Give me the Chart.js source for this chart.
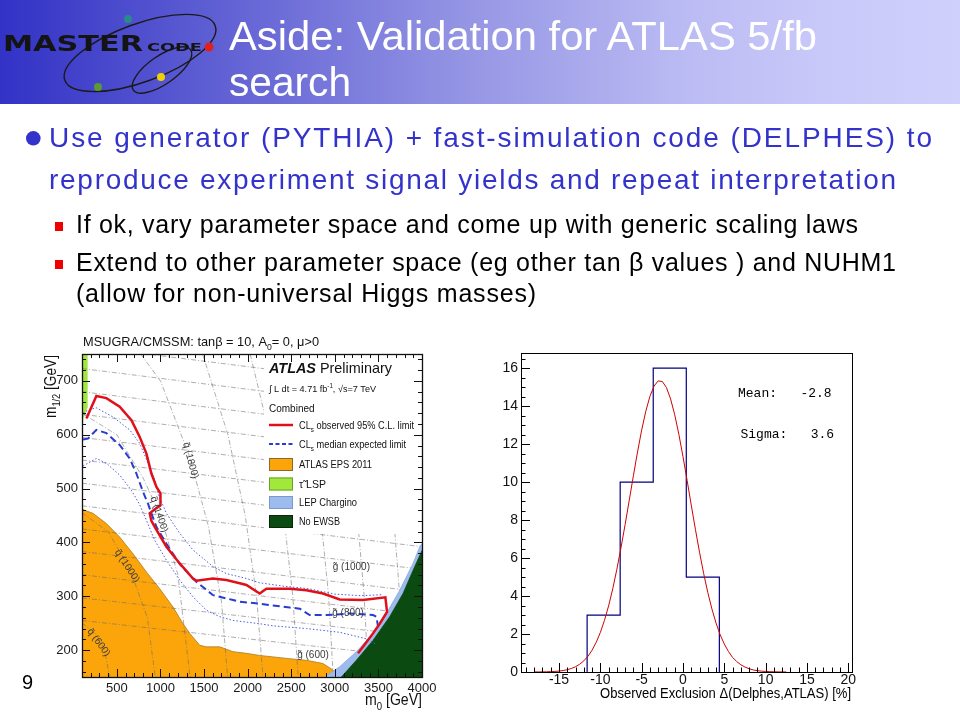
<!DOCTYPE html>
<html>
<head>
<meta charset="utf-8">
<title>Aside: Validation for ATLAS 5/fb search</title>
<script src="https://cdn.jsdelivr.net/npm/chart.js@4.4.1/dist/chart.umd.min.js"></script>
<style>
  body { margin: 0; background: #fff; }
  #slide { position: relative; width: 960px; height: 720px; overflow: hidden; background: #fff; }
  #head { position: absolute; left: 0; top: 0; width: 960px; height: 104px;
          background: linear-gradient(to right, #3232c6 0%, #5a5ad2 20%, #9494e4 48%, #bcbcf4 72%, #cacafa 88%, #d0d0fc 100%); }
  canvas { position: absolute; }
  #atlas { left: 30px; top: 330px; }
  #hist { left: 480px; top: 340px; }
  svg.layer { position: absolute; left: 0; top: 0; }
</style>
</head>
<body>
<div id="slide">
  <div id="head"></div>
  <canvas id="atlas" width="420" height="380"></canvas>
  <canvas id="hist" width="380" height="370"></canvas>
  <svg class="layer" width="960" height="720" font-family="Liberation Sans, Arial, sans-serif">
    <!-- logo -->
    <g fill="none" stroke="#1a1a1a" stroke-width="1.4">
      <ellipse cx="140" cy="53" rx="80" ry="29" transform="rotate(-20 140 53)"/>
      <ellipse cx="162" cy="70" rx="35" ry="14" transform="rotate(-35 162 70)"/>
    </g>
    <text x="3" y="51" font-family="DejaVu Sans" font-weight="bold" font-size="22" fill="#141414" textLength="140" lengthAdjust="spacingAndGlyphs">MASTER</text>
    <text x="147" y="51" font-family="DejaVu Sans" font-weight="bold" font-size="11" fill="#141414" textLength="55" lengthAdjust="spacingAndGlyphs">CODE</text>
    <circle cx="128" cy="19" r="4" fill="#2a8a8a"/>
    <circle cx="209" cy="47" r="4.5" fill="#e02020"/>
    <circle cx="98" cy="87" r="4" fill="#5a9a30"/>
    <circle cx="161" cy="77" r="4" fill="#f0d000"/>
    <!-- title -->
    <text x="229" y="50" font-size="40" fill="#fff" textLength="588" lengthAdjust="spacingAndGlyphs">Aside: Validation for ATLAS 5/fb</text>
    <text x="229" y="96" font-size="40" fill="#fff" textLength="122" lengthAdjust="spacingAndGlyphs">search</text>
    <!-- bullets -->
    <circle cx="33.3" cy="138.3" r="7.3" fill="#3333cc"/>
    <text x="49" y="146.7" font-size="28" fill="#3333cc" textLength="883" lengthAdjust="spacing">Use generator (PYTHIA) + fast-simulation code (DELPHES) to</text>
    <text x="49" y="189" font-size="28" fill="#3333cc" textLength="847" lengthAdjust="spacing">reproduce experiment signal yields and repeat interpretation</text>
    <rect x="55" y="222" width="8" height="9" fill="#ee0000"/>
    <text x="76" y="232.7" font-size="25" fill="#000" textLength="782" lengthAdjust="spacing">If ok, vary parameter space and come up with generic scaling laws</text>
    <rect x="55" y="260" width="8" height="9" fill="#ee0000"/>
    <text x="76" y="271" font-size="25" fill="#000" textLength="820" lengthAdjust="spacing">Extend to other parameter space (eg other tan β values ) and NUHM1</text>
    <text x="76" y="302" font-size="25" fill="#000" textLength="460" lengthAdjust="spacing">(allow for non-universal Higgs masses)</text>
    <text x="22" y="689" font-size="20" fill="#000">9</text>
  </svg>
</div>
<script>
Chart.defaults.font.family = '"Liberation Sans", Arial, sans-serif';

// ---------- right panel: Delphes vs ATLAS exclusion histogram ----------
const HIST_BIN_EDGES = [-11.6, -7.6, -3.6, 0.4, 4.4];
const HIST_BIN_COUNTS = [3, 10, 16, 5];
const FIT_X = [-18, -17.5, -17, -16.5, -16, -15.5, -15, -14.5, -14, -13.5, -13, -12.5,
    -12, -11.5, -11, -10.5, -10, -9.5, -9, -8.5, -8, -7.5, -7, -6.5, -6, -5.5, -5, -4.5,
    -4, -3.5, -3, -2.5, -2, -1.5, -1, -0.5, 0, 0.5, 1, 1.5, 2, 2.5, 3, 3.5, 4, 4.5,
    5, 5.5, 6, 6.5, 7, 7.5, 8, 8.5, 9, 9.5, 10, 10.5, 11, 11.5, 12, 12.5];
const FIT_Y = [0.002, 0.004, 0.006, 0.011, 0.019, 0.030, 0.049, 0.078, 0.121, 0.185, 0.277, 0.407,
    0.586, 0.828, 1.15, 1.56, 2.08, 2.72, 3.48, 4.38, 5.41, 6.55, 7.77, 9.05, 10.34, 11.59, 12.74, 13.73,
    14.52, 15.06, 15.33, 15.30, 14.98, 14.38, 13.55, 12.52, 11.34, 10.09, 8.79, 7.52, 6.31, 5.19, 4.19, 3.32, 2.58, 1.96,
    1.47, 1.08, 0.77, 0.55, 0.38, 0.26, 0.17, 0.11, 0.071, 0.045, 0.028, 0.017, 0.010, 0.006, 0.003, 0.002];
const HIST_X_TICKS = [-15, -10, -5, 0, 5, 10, 15, 20];
const HIST_Y_TICKS = [0, 2, 4, 6, 8, 10, 12, 14, 16];
const FIT_MEAN = '-2.8';
const FIT_SIGMA = '3.6';

// ---------- left panel: ATLAS mSUGRA exclusion (m0, m1/2) ----------
const M0_TICKS = [500, 1000, 1500, 2000, 2500, 3000, 3500, 4000];
const M12_TICKS = [200, 300, 400, 500, 600, 700];

const OBS_M0 = [150, 265, 380, 532, 667, 762, 839, 896, 954, 1000, 1000, 940, 877, 896, 934, 1068, 1221, 1373, 1412,
    1603, 1756, 1909, 1986, 2138, 2215, 2482, 2674, 2864, 3056, 3323, 3580, 3599, 3515, 3438, 3323, 3266];
const OBS_M12 = [630, 672, 668, 652, 627, 596, 565, 528, 503, 491, 469, 462, 454, 440, 429, 392, 361, 333, 329,
    333, 330, 324, 321, 305, 314, 314, 311, 305, 294, 293, 298, 271, 249, 231, 206, 194];

const EXP_M0 = [112, 169, 265, 380, 532, 647, 724, 800, 857, 896, 953, 1067, 1220, 1373, 1412, 1603, 1833, 1909,
    2138, 2291, 2482, 2597, 2712, 2903, 3171, 3438, 3477, 3496];
const EXP_M12 = [591, 593, 609, 603, 581, 556, 528, 494, 472, 454, 429, 398, 360, 333, 327, 302, 293, 290,
    286, 283, 279, 277, 265, 265, 268, 265, 262, 243];

const EXP_UP_M0 = [112, 169, 264, 456, 647, 762, 877, 934, 972, 1068, 1221, 1373, 1603, 1756, 1986, 2138, 2400, 2700, 3000, 3300, 3550];
const EXP_UP_M12 = [640, 646, 650, 633, 609, 584, 540, 516, 491, 454, 417, 386, 355, 342, 333, 325, 319, 314, 304, 301, 303];

const EXP_DN_M0 = [112, 265, 380, 532, 666, 762, 839, 934, 1068, 1221, 1373, 1527, 1680, 1833, 1986, 2138, 2291, 2674, 3056, 3362, 3460];
const EXP_DN_M12 = [542, 556, 547, 525, 497, 470, 441, 404, 367, 330, 299, 274, 262, 255, 252, 249, 245, 240, 233, 221, 212];

const EPS_M0 = [100, 111, 226, 380, 532, 685, 839, 992, 1144, 1259, 1336, 1450, 1527, 1680, 1833, 1986, 2138, 2482, 2674, 2864, 2979, 3036];
const EPS_M12 = [462, 461, 454, 435, 410, 379, 345, 314, 280, 249, 231, 209, 206, 206, 197, 194, 190, 184, 181, 175, 163, 150];

const STAU_M0 = [100, 112, 158, 162];
const STAU_M12 = [605, 630, 650, 750];

const LEP_M0 = [2883, 3056, 3247, 3438, 3591, 3744, 3897, 3974, 4000];
const LEP_M12 = [150, 169, 197, 231, 268, 311, 361, 392, 398];

const EWSB_M0 = [3075, 3247, 3438, 3629, 3782, 3897, 4000];
const EWSB_M12 = [150, 181, 218, 262, 305, 348, 385];

// iso-mass contours (gluino: nearly flat, squark: steep arcs)
const GLUINO_M12_LEFT = [255, 297, 340, 383, 425, 468, 510, 553, 595, 638, 680, 723, 765];
const GLUINO_M12_RIGHT = [185, 225, 265, 308, 350, 392, 434, 476, 518, 560, 602, 644, 686];
const SQUARK_M0 = [
    [100, 250, 350, 420],
    [100, 400, 650, 850, 940],
    [100, 500, 800, 1000, 1200, 1340],
    [772, 1000, 1335, 1550, 1700, 1770],
    [1483, 1774, 1972, 2102, 2176],
    [2029, 2251, 2413, 2518, 2580],
    [2521, 2702, 2837, 2929, 2982],
    [2986, 3141, 3257, 3337, 3384],
    [3434, 3571, 3673, 3745, 3786]
];
const SQUARK_M12 = [
    [250, 232, 205, 150],
    [455, 420, 350, 260, 150],
    [640, 600, 520, 450, 340, 150],
    [750, 700, 559, 430, 290, 150],
    [750, 600, 450, 300, 150],
    [750, 600, 450, 300, 150],
    [750, 600, 450, 300, 150],
    [750, 600, 450, 300, 150],
    [750, 600, 450, 300, 150]
];
const CONTOUR_LABELS = ['q̃ (1800)', 'q̃ (1400)', 'q̃ (1000)', 'q̃ (600)', 'g̃ (1000)', 'g̃ (800)', 'g̃ (600)'];
const CONTOUR_LABEL_M0 = [1343, 983, 616, 291, 3190, 3152, 2750];
const CONTOUR_LABEL_M12 = [552, 452, 356, 214, 353, 269, 190];
const CONTOUR_LABEL_ANGLE = [75, 71, 57, 54, 0, 0, 0];

const FONT = 'Liberation Sans';

function pts(xs, ys) {
    return xs.map((v, i) => ({ x: v, y: ys[i] }));
}

function histOutline(edges, counts) {
    const out = [{ x: edges[0], y: 0 }];
    counts.forEach((c, i) => {
        out.push({ x: edges[i], y: c }, { x: edges[i + 1], y: c });
    });
    out.push({ x: edges[edges.length - 1], y: 0 });
    return out;
}

// text made of pieces: [text, kind] with kind '', 'sub', 'sup', 'bi'
function drawRich(ctx, parts, x, y, size, opts = {}) {
    const fam = opts.family || FONT;
    const fontFor = k => (k === 'bi' ? 'bold italic ' : '') +
        ((k === 'sub' || k === 'sup') ? size * 0.68 : size) + 'px "' + fam + '"';
    let w = 0;
    parts.forEach(([t, k]) => { ctx.font = fontFor(k); w += ctx.measureText(t).width; });
    const sx = opts.width ? opts.width / w : 1;
    ctx.save();
    ctx.translate(x, y);
    if (opts.rotate) ctx.rotate(opts.rotate);
    ctx.scale(sx, 1);
    ctx.textAlign = 'left';
    let cx = opts.align === 'right' ? -w : (opts.align === 'center' ? -w / 2 : 0);
    parts.forEach(([t, k]) => {
        ctx.font = fontFor(k);
        const dy = k === 'sub' ? size * 0.3 : (k === 'sup' ? -size * 0.4 : 0);
        ctx.fillText(t, cx, dy);
        cx += ctx.measureText(t).width;
    });
    ctx.restore();
}

function innerTicks(ctx, a, scale, values, lenOf, sides) {
    ctx.beginPath();
    values.forEach(v => {
        const p = Math.round(scale.getPixelForValue(v)) + 0.5;
        const len = lenOf(v);
        if (sides.includes('b')) { ctx.moveTo(p, a.bottom); ctx.lineTo(p, a.bottom - len); }
        if (sides.includes('t')) { ctx.moveTo(p, a.top); ctx.lineTo(p, a.top + len); }
        if (sides.includes('l')) { ctx.moveTo(a.left, p); ctx.lineTo(a.left + len, p); }
        if (sides.includes('r')) { ctx.moveTo(a.right, p); ctx.lineTo(a.right - len, p); }
    });
    ctx.stroke();
}

const histDecor = {
    id: 'histDecor',
    afterDraw(chart) {
        const { ctx, chartArea: a, scales: { x, y } } = chart;
        ctx.save();
        ctx.strokeStyle = '#000';
        ctx.lineWidth = 1;
        ctx.strokeRect(a.left + 0.5, a.top + 0.5, a.right - a.left, a.bottom - a.top);
        const xMinor = [];
        for (let v = -19; v <= 20; v++) xMinor.push(v);
        innerTicks(ctx, a, x, xMinor, v => (v % 5 === 0 ? 9 : 4.5), 'b');
        const yMinor = [];
        for (let k = 0; k <= 33; k++) yMinor.push(k / 2);
        innerTicks(ctx, a, y, yMinor, v => (v % 2 === 0 ? 9 : 4.5), 'l');

        ctx.fillStyle = '#000';
        ctx.textBaseline = 'alphabetic';
        ctx.font = '13px "Liberation Mono"';
        ctx.fillText('Mean:   ' + FIT_MEAN, 258, 57);
        ctx.fillText('Sigma:   ' + FIT_SIGMA, 260.5, 98);

        drawRich(ctx, [['Observed Exclusion Δ(Delphes,ATLAS) [%]', '']], 371, 358, 14, { align: 'right', width: 251 });
        ctx.restore();
    }
};

new Chart(document.getElementById('hist'), {
    type: 'scatter',
    data: {
        datasets: [{
            data: histOutline(HIST_BIN_EDGES, HIST_BIN_COUNTS),
            showLine: true,
            borderColor: '#000080',
            borderWidth: 1.2,
            pointRadius: 0,
            fill: false,
            order: 2
        }, {
            data: pts(FIT_X, FIT_Y),
            showLine: true,
            borderColor: '#d00000',
            borderWidth: 1,
            pointRadius: 0,
            fill: false,
            order: 1
        }]
    },
    options: {
        responsive: false,
        animation: false,
        devicePixelRatio: 1,
        events: [],
        layout: { padding: { top: 13, right: 8, left: 0, bottom: 0 } },
        plugins: { legend: { display: false }, tooltip: { enabled: false } },
        scales: {
            x: {
                type: 'linear', min: -19.6, max: 20.45,
                afterBuildTicks: s => { s.ticks = HIST_X_TICKS.map(v => ({ value: v })); },
                afterFit: s => { s.height = 38; },
                grid: { display: false, drawTicks: false },
                border: { display: false },
                ticks: { padding: 0, color: '#111', font: { size: 14 }, autoSkip: false, maxRotation: 0, callback: v => String(v) }
            },
            y: {
                type: 'linear', min: 0, max: 16.8,
                afterBuildTicks: s => { s.ticks = HIST_Y_TICKS.map(v => ({ value: v })); },
                afterFit: s => { s.width = 41; },
                grid: { display: false, drawTicks: false },
                border: { display: false },
                ticks: { padding: 3, color: '#111', font: { size: 14 }, autoSkip: false, callback: v => String(v) }
            }
        }
    },
    plugins: [histDecor]
});

// ---------- ATLAS panel ----------
const atlasDecor = {
    id: 'atlasDecor',
    afterDraw(chart) {
        const { ctx, chartArea: a, scales: { x, y } } = chart;
        ctx.save();

        // contour labels
        ctx.fillStyle = '#3a3a3a';
        ctx.textBaseline = 'middle';
        CONTOUR_LABELS.forEach((t, i) => {
            drawRich(ctx, [[t, '']], x.getPixelForValue(CONTOUR_LABEL_M0[i]), y.getPixelForValue(CONTOUR_LABEL_M12[i]), 10,
                { align: 'center', rotate: CONTOUR_LABEL_ANGLE[i] * Math.PI / 180 });
        });

        // legend panel
        ctx.fillStyle = '#fff';
        ctx.fillRect(234, a.top, a.right - 234, 204 - a.top);
        ctx.textBaseline = 'alphabetic';
        ctx.fillStyle = '#111';
        drawRich(ctx, [['ATLAS', 'bi'], [' Preliminary', '']], 239, 43, 15, { width: 123 });
        drawRich(ctx, [['∫ L dt = 4.71 fb', ''], ['-1', 'sup'], [', √s=7 TeV', '']], 239, 62, 9.5, { width: 107 });
        drawRich(ctx, [['Combined', '']], 239, 82, 10);

        ctx.lineWidth = 2.5;
        ctx.strokeStyle = '#e0101a';
        ctx.beginPath(); ctx.moveTo(239, 95); ctx.lineTo(263, 95); ctx.stroke();
        ctx.lineWidth = 2;
        ctx.strokeStyle = '#2a3bd0';
        ctx.setLineDash([4, 2.5]);
        ctx.beginPath(); ctx.moveTo(239, 114); ctx.lineTo(263, 114); ctx.stroke();
        ctx.setLineDash([]);
        drawRich(ctx, [['CL', ''], ['s', 'sub'], [' observed 95% C.L. limit', '']], 269, 99, 10, { width: 115 });
        drawRich(ctx, [['CL', ''], ['s', 'sub'], [' median expected limit', '']], 269, 118, 10, { width: 107 });

        const boxes = [
            ['ATLAS EPS 2011', '#fca50a', '#8a6a2a', 128, 73],
            ['τ̃ LSP', '#a2e83a', '#6aa030', 147.5, 27],
            ['LEP Chargino', '#9dbbee', '#7a98c8', 166, 58],
            ['No EWSB', '#0b4a10', '#062a08', 185, 41]
        ];
        ctx.lineWidth = 1;
        boxes.forEach(([t, fillC, edge, top, w]) => {
            ctx.fillStyle = fillC;
            ctx.fillRect(239, top, 24, 13);
            ctx.strokeStyle = edge;
            ctx.strokeRect(239.5, top + 0.5, 23, 12);
            ctx.fillStyle = '#111';
            drawRich(ctx, [[t, '']], 269, top + 10, 10.5, { width: w });
        });

        // frame and inner ticks
        ctx.strokeStyle = '#111';
        ctx.lineWidth = 1;
        const xMinor = [];
        for (let v = 100; v <= 4000; v += 100) xMinor.push(v);
        innerTicks(ctx, a, x, xMinor, v => (v % 500 === 0 ? 8 : 4), 'bt');
        const yMinor = [];
        for (let v = 160; v <= 740; v += 20) yMinor.push(v);
        innerTicks(ctx, a, y, yMinor, v => (v % 100 === 0 ? 8 : 4), 'lr');
        ctx.lineWidth = 1.3;
        ctx.strokeRect(a.left + 0.5, a.top + 0.5, a.right - a.left, a.bottom - a.top);

        // titles
        ctx.fillStyle = '#111';
        drawRich(ctx, [['MSUGRA/CMSSM: tanβ = 10, A', ''], ['0', 'sub'], ['= 0, μ>0', '']], 53, 16, 13, { width: 236 });
        drawRich(ctx, [['m', ''], ['0', 'sub'], [' [GeV]', '']], 392, 375, 16, { align: 'right', width: 57 });
        drawRich(ctx, [['m', ''], ['1/2', 'sub'], [' [GeV]', '']], 25.5, 88, 16, { rotate: -Math.PI / 2, width: 63 });
        ctx.restore();
    }
};

const contourStyle = {
    showLine: true, pointRadius: 0, fill: false,
    borderColor: 'rgba(105,105,105,0.6)', borderWidth: 0.9, borderDash: [5, 2, 1, 2], order: 15
};
const contourSets = [];
GLUINO_M12_LEFT.forEach((l, i) => {
    contourSets.push(Object.assign({ data: [{ x: 100, y: l }, { x: 4000, y: GLUINO_M12_RIGHT[i] }] }, contourStyle));
});
SQUARK_M0.forEach((xs, i) => {
    contourSets.push(Object.assign({ data: pts(xs, SQUARK_M12[i]) }, contourStyle));
});

new Chart(document.getElementById('atlas'), {
    type: 'scatter',
    data: {
        datasets: [{
            data: pts(EPS_M0, EPS_M12), showLine: true, pointRadius: 0, fill: 'start',
            backgroundColor: '#fca50a', borderColor: '#a77a2a', borderWidth: 0.8, order: 20
        }, {
            data: pts(STAU_M0, STAU_M12), showLine: true, pointRadius: 0, fill: 'end',
            backgroundColor: '#a2e83a', borderColor: '#8ad030', borderWidth: 0.5, order: 20
        },
        ...contourSets,
        {
            data: pts(LEP_M0, LEP_M12), showLine: true, pointRadius: 0, fill: 'start',
            backgroundColor: '#9dbbee', borderColor: '#8aa8e0', borderWidth: 0.8, order: 10
        }, {
            data: pts(EWSB_M0, EWSB_M12), showLine: true, pointRadius: 0, fill: 'start',
            backgroundColor: '#0b4a10', borderColor: '#0b4a10', borderWidth: 0.8, order: 9
        }, {
            data: pts(EXP_UP_M0, EXP_UP_M12), showLine: true, pointRadius: 0, fill: false,
            borderColor: '#4a5ce0', borderWidth: 1, borderDash: [1.5, 2], order: 3
        }, {
            data: pts(EXP_DN_M0, EXP_DN_M12), showLine: true, pointRadius: 0, fill: false,
            borderColor: '#4a5ce0', borderWidth: 1, borderDash: [1.5, 2], order: 3
        }, {
            data: pts(EXP_M0, EXP_M12), showLine: true, pointRadius: 0, fill: false,
            borderColor: '#2a3bd0', borderWidth: 2, borderDash: [7, 4], order: 2
        }, {
            data: pts(OBS_M0, OBS_M12), showLine: true, pointRadius: 0, fill: false,
            borderColor: '#e0101a', borderWidth: 2.5, order: 1
        }]
    },
    options: {
        responsive: false,
        animation: false,
        devicePixelRatio: 1,
        events: [],
        layout: { padding: { top: 24, right: 28, left: 0, bottom: 0 } },
        plugins: { legend: { display: false }, tooltip: { enabled: false } },
        scales: {
            x: {
                type: 'linear', min: 100, max: 4000,
                afterBuildTicks: s => { s.ticks = M0_TICKS.map(v => ({ value: v })); },
                afterFit: s => { s.height = 33; },
                grid: { display: false, drawTicks: false },
                border: { display: false },
                ticks: { padding: 4, color: '#1a1a1a', font: { size: 13 }, autoSkip: false, maxRotation: 0, callback: v => String(v) }
            },
            y: {
                type: 'linear', min: 150, max: 750,
                afterBuildTicks: s => { s.ticks = M12_TICKS.map(v => ({ value: v })); },
                afterFit: s => { s.width = 52; },
                grid: { display: false, drawTicks: false },
                border: { display: false },
                ticks: { padding: 4, color: '#1a1a1a', font: { size: 13 }, autoSkip: false, callback: v => String(v) }
            }
        }
    },
    plugins: [atlasDecor]
});
</script>
</body>
</html>
